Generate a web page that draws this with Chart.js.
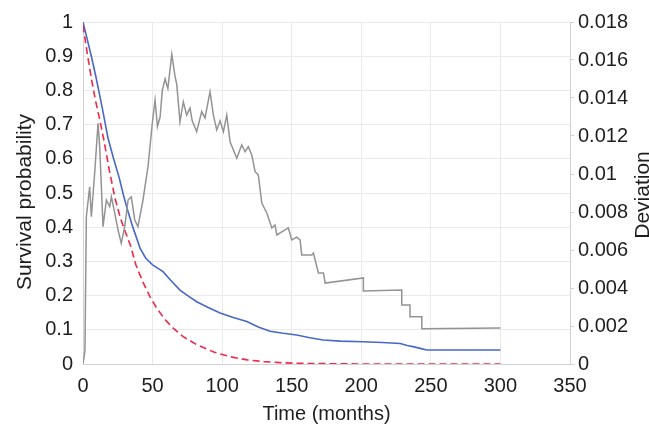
<!DOCTYPE html>
<html>
<head>
<meta charset="utf-8">
<title>Survival and deviation</title>
<script src="https://cdn.jsdelivr.net/npm/chart.js@4.4.1/dist/chart.umd.min.js"></script>
<style>
  html, body { margin: 0; padding: 0; background: #fff; }
  #wrap { width: 649px; height: 428px; position: relative; }
</style>
</head>
<body>
<div id="wrap"><canvas id="chart"></canvas></div>
<script>
// ---- data -------------------------------------------------------------------

const monthTicks     = [0, 50, 100, 150, 200, 250, 300, 350];
const survivalTicks  = [0, 0.1, 0.2, 0.3, 0.4, 0.5, 0.6, 0.7, 0.8, 0.9, 1];
const deviationTicks = [0, 0.002, 0.004, 0.006, 0.008, 0.01, 0.012, 0.014, 0.016, 0.018];

// observed survival (blue)
const kmMonths   = [0, 3, 6, 9, 11, 14, 18, 22, 26, 29, 32, 36, 41, 45, 50, 57.5, 63, 69.7, 76, 81.7,
                    90, 98.5, 108, 117.7, 126, 134.4, 144, 153.6, 163, 172.7, 184.8, 201, 215, 228,
                    233, 238, 243, 247, 300];
const kmSurvival = [1, 0.95, 0.9, 0.845, 0.806, 0.745, 0.66, 0.6, 0.545, 0.495, 0.45, 0.398, 0.339,
                    0.31, 0.29, 0.27, 0.245, 0.216, 0.198, 0.182, 0.165, 0.149, 0.136, 0.124, 0.108,
                    0.096, 0.09, 0.085, 0.077, 0.07, 0.067, 0.065, 0.063, 0.06, 0.054, 0.05, 0.045,
                    0.041, 0.041];

// fitted survival (red, dashed)
const modelMonths   = [0, 3, 6, 9, 12, 15, 19, 23, 27, 31, 34, 38, 43, 48, 53, 59, 65, 72, 82, 94,
                       106, 118, 130, 142, 154, 175, 200, 300];
const modelSurvival = [0.99, 0.91, 0.835, 0.77, 0.715, 0.655, 0.565, 0.485, 0.425, 0.38, 0.348,
                       0.29, 0.24, 0.198, 0.163, 0.13, 0.104, 0.08, 0.056, 0.035, 0.021, 0.012,
                       0.007, 0.004, 0.002, 0.001, 0, 0];

// deviation between the two (grey, right axis)
const devMonths = [0, 1.4, 2.4, 4.8, 6, 8.4, 10.8, 12, 14.4, 16.8, 19.2, 20.4, 22.8, 25.2, 27.5, 30,
                   32.4, 34.7, 37.2, 39.5, 43.1, 46.7, 50, 51.8, 53.5, 55.4, 57, 59, 61, 63.8, 66,
                   67.4, 69.7, 72.1, 74.5, 76.9, 78.5, 81.7, 85.3, 87.7, 91.3, 93.7, 96.1, 98.5,
                   100.9, 103.3, 105.7, 110.5, 114.1, 116.5, 118.8, 121.3, 123.7, 126, 128.5, 132.1,
                   135.7, 138, 139.3, 142.8, 147.6, 150, 153.6, 156, 157.2, 164.4, 165.6, 169.2,
                   172.8, 174, 201.5, 201.5, 229.1, 229.1, 235, 235, 243.5, 243.5, 300];
const devValues = [0, 0.0007, 0.00775, 0.00933, 0.00775, 0.01005, 0.01267, 0.01144, 0.00723,
                   0.00863, 0.00828, 0.0088, 0.00795, 0.00705, 0.00635, 0.00723, 0.00863, 0.0088,
                   0.00758, 0.00723, 0.00863, 0.01038, 0.0128, 0.0139, 0.0125, 0.013, 0.0144, 0.015,
                   0.0145, 0.0163, 0.0152, 0.0147, 0.01275, 0.0138, 0.0131, 0.01347, 0.0128,
                   0.01223, 0.01328, 0.01295, 0.01433, 0.0131, 0.01232, 0.0128, 0.01223, 0.0131,
                   0.0117, 0.01083, 0.01153, 0.01117, 0.01144, 0.011, 0.01012, 0.00995, 0.00847,
                   0.00795, 0.00716, 0.00732, 0.00679, 0.00695, 0.00716, 0.00653, 0.00668, 0.00653,
                   0.00574, 0.00574, 0.00584, 0.00479, 0.00479, 0.00426, 0.00453, 0.00384, 0.00389,
                   0.00311, 0.00311, 0.00249, 0.00249, 0.00185, 0.00189];

// ---- helpers ----------------------------------------------------------------

const FONT = '"Liberation Sans", Arial, sans-serif';
const TEXT = '#1e1e1e';
const GRID = '#e9e9e9';
const AXIS = '#d2d2d2';

function pairs(xs, ys) {
  return xs.map((x, i) => ({ x: x, y: ys[i] }));
}

function fixedTicks(values) {
  return scale => { scale.ticks = values.map(v => ({ value: v })); };
}

// vertical axis titles, both reading bottom-to-top
const sideTitles = {
  id: 'sideTitles',
  afterDraw(chart) {
    const { ctx, chartArea } = chart;
    const mid = (chartArea.top + chartArea.bottom) / 2;
    ctx.save();
    ctx.fillStyle = TEXT;
    ctx.font = '21px ' + FONT;
    ctx.textAlign = 'center';
    ctx.textBaseline = 'middle';
    [['Survival probability', 25, mid + 9], ['Deviation', chart.width - 6, mid + 2]].forEach(([txt, x, y]) => {
      ctx.save();
      ctx.translate(x, y);
      ctx.rotate(-Math.PI / 2);
      ctx.fillText(txt, 0, 0);
      ctx.restore();
    });
    ctx.restore();
  }
};

// ---- chart ------------------------------------------------------------------

Chart.defaults.font.family = FONT;
Chart.defaults.font.size = 20;
Chart.defaults.color = TEXT;

new Chart(document.getElementById('chart'), {
  type: 'line',
  data: {
    datasets: [
      {
        label: 'Deviation',
        data: pairs(devMonths, devValues),
        yAxisID: 'y1',
        borderColor: '#939393',
        borderWidth: 1.5,
        order: 0
      },
      {
        label: 'Observed',
        data: pairs(kmMonths, kmSurvival),
        yAxisID: 'y',
        borderColor: '#4768c8',
        borderWidth: 1.6,
        order: 2
      },
      {
        label: 'Model',
        data: pairs(modelMonths, modelSurvival),
        yAxisID: 'y',
        borderColor: '#f0284a',
        borderWidth: 1.6,
        borderDash: [7, 4],
        order: 1
      }
    ]
  },
  options: {
    responsive: true,
    maintainAspectRatio: false,
    animation: false,
    layout: { padding: { top: 22, left: 0, right: 0, bottom: 0 } },
    elements: { point: { radius: 0 }, line: { tension: 0, fill: false } },
    plugins: { legend: { display: false }, tooltip: { enabled: false } },
    scales: {
      x: {
        type: 'linear',
        min: 0, max: 350,
        afterBuildTicks: fixedTicks(monthTicks),
        afterFit: s => { s.height = 64; },
        ticks: { padding: 10, callback: v => String(v) },
        grid: { color: GRID, drawTicks: false },
        border: { color: AXIS },
        title: { display: true, text: 'Time (months)', font: { size: 20 }, padding: { top: 0, bottom: 2 } }
      },
      y: {
        position: 'left',
        min: 0, max: 1,
        afterBuildTicks: fixedTicks(survivalTicks),
        afterFit: s => { s.width = 83; },
        ticks: { padding: 10, callback: v => String(v) },
        grid: { color: GRID, drawTicks: false },
        border: { color: AXIS }
      },
      y1: {
        position: 'right',
        min: 0, max: 0.018,
        afterBuildTicks: fixedTicks(deviationTicks),
        afterFit: s => { s.width = 79; },
        ticks: { padding: 4, callback: v => String(v) },
        grid: { drawOnChartArea: false, color: AXIS, tickLength: 4 },
        border: { color: AXIS }
      }
    }
  },
  plugins: [sideTitles]
});
</script>
</body>
</html>
